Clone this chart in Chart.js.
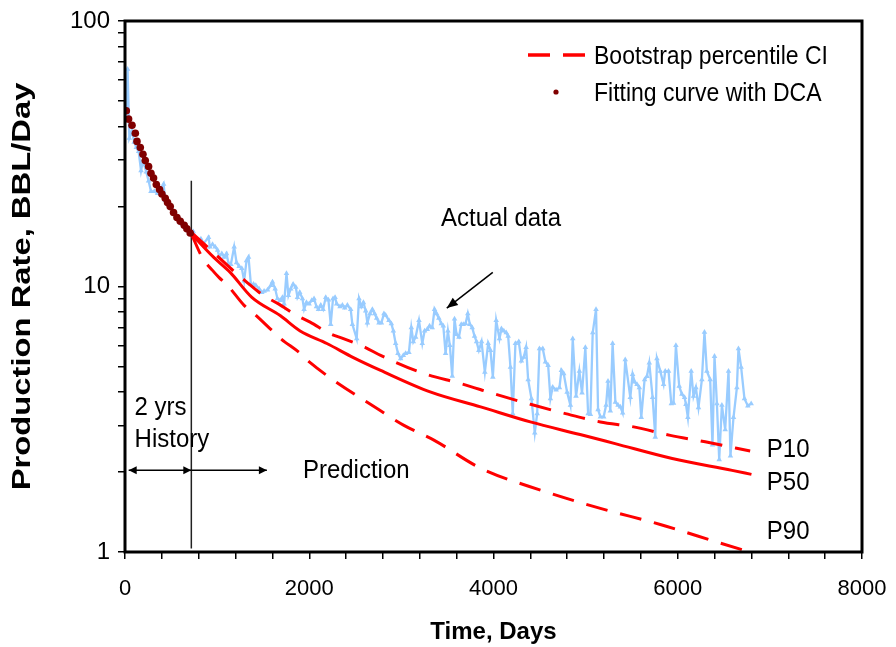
<!DOCTYPE html>
<html><head><meta charset="utf-8">
<script src="https://cdn.jsdelivr.net/npm/chart.js@4.4.1/dist/chart.umd.min.js"></script>
<style>html,body{margin:0;padding:0;background:#fff;}#wrap{width:896px;height:647px;}</style>
</head><body><div id="wrap"><canvas id="c" width="896" height="647"></canvas></div>
<script>
const FONT = "'Liberation Sans', Arial, Helvetica, sans-serif";

// ---- data (days, BBL/day) ----
const actualDays = [
 11,28,47,76,100,123,148,174,195,231,256,282,318,354,385,419,437,473,500,527,555,581,620,654,690,727,
 741,770,824,849,907,921,950,979,1005,1022,1051,1077,1102,1124,1149,1185,1211,1239,1268,1293,1319,1341,1366,1395,1420,1456,1485,1510,1547,1583,1601,1630,1655,1684,1709,1727,1753,1774,1799,1825,1854,1872,1897,1926,1944,1970,1998,2027,2052,2078,2100,2125,2150,2179,2208,2233,2258,2280,
 2298,2334,2360,2385,2414,2450,2468,2515,2540,2566,2588,2613,2631,2659,2685,2710,2732,2757,2783,2811,2829,2865,2891,2913,2938,2963,2992,3021,3046,3082,3108,3130,3155,3191,3227,3252,3281,3306,3335,3360,3382,3407,3433,3455,3480,3505,3526,3552,3577,3599,3625,3650,3672,3697,3721,3743,3769,3794,3816,3841,
 3870,3906,3942,3967,3993,4029,4065,4087,4112,4138,4159,4184,4209,4238,4274,4303,4329,4354,4376,4412,4448,4474,4499,4535,4564,4593,4618,4643,4680,4716,4737,4762,4799,4835,4860,4896,4932,4961,4997,5027,5052,5077,5113,5135,5160,5196,5222,5243,5268,5293,5323,5352,5377,5402,
 5430,5485,5510,5532,5558,5583,5604,5640,5666,5691,5727,5756,5774,5810,5846,5864,5900,5930,5954,5980,6016,6045,6074,6089,6110,6146,6171,6197,6225,6262,6290,6316,6352,6377,6399,6425,6450,6479,6515,6551,6572,6605,6642,6659,6688,6724,6761,6797
];
const actualRate = [
 44,65.8,36.2,38.5,35,33.4,32.3,27.3,29.8,27.0,25,22.8,22.8,22.4,23,24.3,21.1,20.7,20,19.0,18.6,18.2,17.2,16.7,16.2,15.8,
 16.1,14.9,15.1,14.5,15.3,14.1,14.4,14.1,13.7,13.0,13.3,12.9,13.3,12.2,12.1,14.1,12.3,11.9,11.7,10.5,12.5,12.9,10.2,10.2,10.1,9.8,9.5,9.6,9.7,10.1,10.4,9.8,9.0,8.86,9.1,8.6,11.2,9.25,9.8,10.2,9.95,9.1,9.5,9.0,8.2,8.7,8.6,8.86,9.0,8.4,8.2,8.5,8.2,9.1,8.9,7.2,9.0,9.1,
 8.6,8.4,8.5,8.3,8.5,8.2,7.2,6.36,9.0,8.4,8.7,8.1,7.3,7.9,8.2,7.9,7.6,7.3,7.3,7.9,7.8,7.45,7.25,6.8,6.1,5.6,5.35,5.5,5.6,5.65,7.0,6.2,6.45,7.45,6.1,6.8,6.9,7.1,7.0,8.2,7.9,7.6,7.25,7.1,5.6,6.8,6.0,4.6,7.55,6.6,6.45,7.2,7.2,7.25,7.9,7.2,7.0,6.5,6.2,5.75,
 6.2,4.76,6.1,5.75,4.56,7.45,6.36,6.93,6.8,6.7,6.5,4.97,3.32,6.1,6.2,5.24,5.42,5.9,4.46,3.78,2.81,3.32,5.83,5.83,5.2,5.05,3.78,4.18,4.08,4.16,4.83,4.7,4.0,3.57,6.36,3.86,4.8,3.97,5.9,3.32,3.3,6.7,8.2,3.44,3.23,3.23,3.57,4.4,3.4,6.1,3.67,3.57,3.52,3.34,
 5.3,3.82,4.67,4.37,4.28,4.16,3.21,4.46,4.59,5.15,3.82,2.71,5.35,4.8,4.28,4.8,4.8,3.62,3.64,6.0,4.21,3.93,3.82,3.6,3.21,4.8,3.86,4.16,3.5,4.46,6.73,4.8,4.46,2.53,5.46,3.62,2.23,3.57,2.89,4.8,2.3,3.21,4.16,5.83,4.97,3.78,3.55,3.62
];
const fitDays = [14,39,76,112,130,166,195,220,256,282,310,340,375,401,437,462,491,527,564,600,643,672,708];
const fitRate = [45.9,42.7,40.5,37.8,35.2,33.4,31.5,29.8,28.3,26.7,25.6,24.2,23.2,22.3,21.5,20.7,20.0,19.0,18.2,17.6,17.0,16.5,15.9];
const p10Days = [720,1015,1196,1305,1503,1666,1866,2010,2227,2371,2606,2775,3245,3642,4022,4401,4781,5160,5521,5919,6298,6786];
const p10Rate = [16.0,12.9,11.3,10.5,9.25,8.6,7.77,7.34,6.64,6.36,5.9,5.5,4.7,4.31,3.93,3.6,3.32,3.09,2.96,2.75,2.6,2.4];
const p50Days = [720,961,1142,1377,1684,1901,2191,2479,2775,3320,3860,4400,4940,5320,5940,6590,6800];
const p50Rate = [15.8,12.9,11.3,9.1,7.77,6.8,6.1,5.4,4.83,4.0,3.52,3.09,2.77,2.56,2.25,2.03,1.96];
const p90Days = [720,842,950,1022,1113,1293,1402,1601,1691,1908,1980,2811,3028,3353,3859,4510,5160,5810,6461,6800];
const p90Rate = [15.8,12.8,11.5,10.8,10.1,8.49,7.9,6.8,6.36,5.58,5.27,3.34,3.0,2.64,2.07,1.71,1.46,1.27,1.08,0.995];
const historyLineDays = [720,720];
const historyLineRate = [25,1.03];

// ---- axis ticks ----
const xTickLabels = ['0','2000','4000','6000','8000'];
const yTickLabels = ['1','10','100'];
const yTickValues = [1,2,3,4,5,6,7,8,9,10,20,30,40,50,60,70,80,90,100];

// ---- annotations (data coordinates) ----
const notes = [
  {text:'Actual data', day:4082, rate:16.86, align:'center'},
  {text:'2 yrs', day:104, rate:3.27, align:'left'},
  {text:'History', day:104, rate:2.49, align:'left'},
  {text:'Prediction', day:1931, rate:1.90, align:'left'},
  {text:'P10', day:6967, rate:2.28, align:'left'},
  {text:'P50', day:6967, rate:1.716, align:'left'},
  {text:'P90', day:6967, rate:1.123, align:'left'}
];
const arrows = [
  {from:[40,2.03], to:[720,2.03], both:true},
  {from:[720,2.03], to:[1540,2.03], both:false},
  {from:[3992,11.3], to:[3493,8.29], both:false, big:true}
];
const yTitle = 'Production Rate, BBL/Day';

const pts = (xs, ys) => xs.map((v,i)=>({x:v, y:ys[i]}));

function stretchedText(ctx, text, x, y, sy){
  ctx.save(); ctx.translate(x,y); ctx.scale(1,sy); ctx.fillText(text,0,0); ctx.restore();
}

const overlay = {
  id:'overlay',
  afterDatasetsDraw(chart){
    const {ctx, chartArea:a, scales:{x,y}} = chart;
    const px = d => x.getPixelForValue(d), py = v => y.getPixelForValue(v);
    ctx.save();
    // arrows
    ctx.strokeStyle='#000'; ctx.fillStyle='#000'; ctx.lineWidth=1.5; ctx.setLineDash([]);
    function head(x1,y1,x2,y2,len,half){
      const ang=Math.atan2(y2-y1,x2-x1);
      ctx.beginPath();
      ctx.moveTo(x2,y2);
      ctx.lineTo(x2-len*Math.cos(ang)+half*Math.sin(ang), y2-len*Math.sin(ang)-half*Math.cos(ang));
      ctx.lineTo(x2-len*Math.cos(ang)-half*Math.sin(ang), y2-len*Math.sin(ang)+half*Math.cos(ang));
      ctx.closePath(); ctx.fill();
    }
    arrows.forEach(ar=>{
      const x1=px(ar.from[0]), y1=py(ar.from[1]), x2=px(ar.to[0]), y2=py(ar.to[1]);
      const len = ar.big?11:8, half = ar.big?4.5:4;
      ctx.beginPath(); ctx.moveTo(x1,y1); ctx.lineTo(x2,y2); ctx.stroke();
      head(x1,y1,x2,y2,len,half);
      if(ar.both) head(x2,y2,x1,y1,len,half);
    });
    // frame
    ctx.lineWidth=3; ctx.strokeStyle='#000';
    ctx.strokeRect(a.left,a.top,a.right-a.left,a.bottom-a.top);
    // annotation text
    ctx.fillStyle='#000'; ctx.textBaseline='alphabetic';
    ctx.font = `24px ${FONT}`;
    notes.forEach(n=>{ ctx.textAlign=n.align; stretchedText(ctx, n.text, px(n.day), py(n.rate), 1.06); });
    // legend
    const lx = a.left + 403, ly1 = a.top + 34, ly2 = a.top + 71;
    ctx.strokeStyle='#ff0000'; ctx.lineWidth=3.5; ctx.setLineDash([22,13]);
    ctx.beginPath(); ctx.moveTo(lx,ly1); ctx.lineTo(lx+57,ly1); ctx.stroke();
    ctx.setLineDash([]);
    ctx.fillStyle='#800000'; ctx.beginPath(); ctx.arc(lx+28,ly2,2.6,0,Math.PI*2); ctx.fill();
    ctx.fillStyle='#000'; ctx.textAlign='left'; ctx.font=`23px ${FONT}`;
    stretchedText(ctx,'Bootstrap percentile CI', lx+66, ly1+8.5, 1.1);
    stretchedText(ctx,'Fitting curve with DCA', lx+66, ly2+8.5, 1.1);
    // y-axis title (stretched along its length)
    ctx.save();
    ctx.font = `bold 26px ${FONT}`; ctx.textAlign='center'; ctx.textBaseline='middle';
    ctx.translate(23, (a.top+a.bottom)/2);
    ctx.rotate(-Math.PI/2);
    ctx.scale(1.26,1);
    ctx.fillText(yTitle,0,0);
    ctx.restore();
    ctx.restore();
  }
};

const redLine = {borderColor:'#ff0000', backgroundColor:'#ff0000', borderWidth:3, pointRadius:0, cubicInterpolationMode:'monotone', fill:false};

new Chart(document.getElementById('c'), {
  type:'line',
  data:{datasets:[
    {label:'Fitting curve with DCA', data:pts(fitDays,fitRate), showLine:false, pointRadius:3.8, pointBackgroundColor:'#800000', pointBorderColor:'#800000', pointBorderWidth:0, order:0},
    Object.assign({label:'P50', data:pts(p50Days,p50Rate), order:1}, redLine),
    Object.assign({label:'P10', data:pts(p10Days,p10Rate), borderDash:[22,13], order:1}, redLine),
    Object.assign({label:'P90', data:pts(p90Days,p90Rate), borderDash:[22,13], order:1}, redLine),
    {label:'2 yrs', data:pts(historyLineDays,historyLineRate), borderColor:'#222', borderWidth:1.5, pointRadius:0, order:2},
    {label:'Actual data', data:pts(actualDays,actualRate), borderColor:'#99ccff', backgroundColor:'#99ccff', borderWidth:2.3, pointStyle:'triangle', pointRadius:3.2, pointBackgroundColor:'#99ccff', pointBorderColor:'#99ccff', pointBorderWidth:0, tension:0, order:3}
  ]},
  options:{
    responsive:false, animation:false, devicePixelRatio:1,
    layout:{padding:{top:21,right:34,left:0,bottom:0}},
    plugins:{legend:{display:false}, tooltip:{enabled:false}},
    scales:{
      x:{type:'linear', min:0, max:8000,
        border:{display:false},
        grid:{drawOnChartArea:false, drawTicks:true, tickLength:7, color:'#000', lineWidth:1.5},
        ticks:{stepSize:400, autoSkip:false, maxRotation:0, padding:17, color:'#000', font:{family:FONT,size:22},
          callback:(v)=>{const s=String(v); return xTickLabels.includes(s)?s:'';}},
        title:{display:true, text:'Time, Days', color:'#000', font:{family:FONT,size:24,weight:'bold'}, padding:{top:0,bottom:0}},
        afterFit:(s)=>{s.height=95; s.paddingLeft=0; s.paddingRight=0;}
      },
      y:{type:'logarithmic', min:1, max:100,
        border:{display:false},
        afterBuildTicks:(s)=>{s.ticks=yTickValues.map(v=>({value:v}));},
        grid:{drawOnChartArea:false, drawTicks:true, tickLength:7, color:'#000', lineWidth:1.5},
        ticks:{autoSkip:false, padding:8, color:'#000', font:{family:FONT,size:24},
          callback:(v)=>{const s=String(v); return yTickLabels.includes(s)?s:'';}},
        title:{display:false, text:yTitle},
        afterFit:(s)=>{s.width=125; s.paddingTop=0; s.paddingBottom=0;}
      }
    }
  },
  plugins:[overlay]
});
</script></body></html>
